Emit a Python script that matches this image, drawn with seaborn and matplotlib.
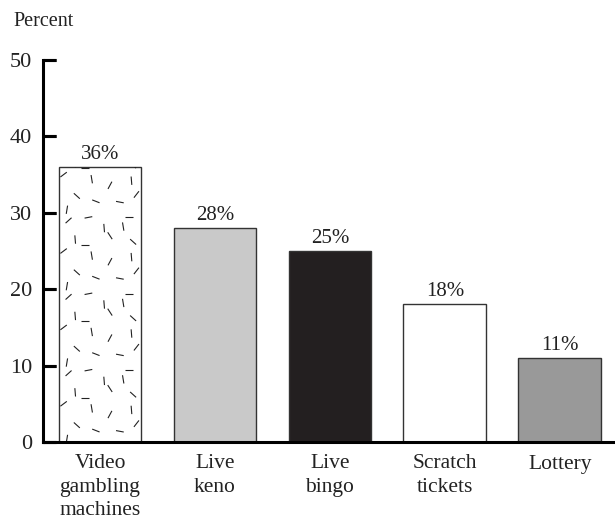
import matplotlib
matplotlib.use("Agg")
import matplotlib.pyplot as plt
from matplotlib.collections import LineCollection
import numpy as np
import pandas as pd
import seaborn as sns

categories = ["Video\ngambling\nmachines", "Live\nkeno", "Live\nbingo", "Scratch\ntickets", "Lottery"]
values = [36, 28, 25, 18, 11]
value_labels = ["36%", "28%", "25%", "18%", "11%"]
bar_colors = ["#ffffff", "#c9c9c9", "#231f20", "#ffffff", "#999999"]
y_ticks = [0, 10, 20, 30, 40, 50]

sns.set_theme(style="white")
plt.rcParams["font.family"] = ["Liberation Serif", "DejaVu Serif"]

df = pd.DataFrame({"category": categories, "value": values})

fig = plt.figure(figsize=(6.15, 5.21), dpi=100)
ax = fig.add_axes([43 / 615, 1 - 442 / 521, 1 - 43 / 615, (442 - 60) / 521])

sns.barplot(data=df, x="category", y="value", hue="category", palette=bar_colors,
            legend=False, width=0.72, edgecolor="#333333", linewidth=1.0, ax=ax,
            saturation=1)

ax.set_xlim(-0.496, 4.48)
ax.set_ylim(0, 50)
ax.set_yticks(y_ticks)
ax.set_yticklabels([str(t) for t in y_ticks], fontsize=16, color="#222222")
ax.set_xlabel("")
ax.set_ylabel("")
for side in ("top", "right"):
    ax.spines[side].set_visible(False)
for side in ("left", "bottom"):
    ax.spines[side].set_linewidth(2.2)
    ax.spines[side].set_color("black")

# value labels above bars
for i, (v, t) in enumerate(zip(values, value_labels)):
    ax.text(i, v + 0.45, t, ha="center", va="bottom", fontsize=15, color="#222222")

# speckled dash texture on the first bar
bar = ax.patches[0]
x0, w = bar.get_x(), bar.get_width()
tile = [(0.12, 0.90, 40), (0.36, 0.94, 10), (0.55, 0.80, 95), (0.85, 0.94, 0),
        (0.20, 0.65, 95), (0.62, 0.70, 125), (0.90, 0.62, 140), (0.06, 0.50, 35),
        (0.40, 0.44, 100), (0.62, 0.36, 60), (0.88, 0.42, 95), (0.22, 0.22, 140),
        (0.45, 0.15, 160), (0.74, 0.14, 170), (0.94, 0.24, 50), (0.10, 0.04, 80),
        (0.32, 0.58, 0), (0.78, 0.82, 100)]
tile_h = 10.0
seg_len_x = 0.034
seg_len_y = 0.55
segs = []
for k in range(5):
    for fx, fy, ang in tile:
        cx = x0 + fx * w
        cy = k * tile_h + fy * tile_h
        dx = seg_len_x * np.cos(np.radians(ang))
        dy = seg_len_y * np.sin(np.radians(ang))
        segs.append([(cx - dx, cy - dy), (cx + dx, cy + dy)])
lc = LineCollection(segs, colors="#222222", linewidths=0.8, zorder=bar.get_zorder() + 0.1)
ax.add_collection(lc, autolim=False)
lc.set_clip_path(bar)

fig.text(13 / 615, 1 - 21 / 521, "Percent", fontsize=14.5, color="#222222", va="center")

# tick styling
ax.xaxis.set_tick_params(which="major", bottom=False, length=0, pad=9,
                         labelsize=15.5, labelcolor="#222222")
for lbl in ax.get_xticklabels():
    lbl.set_linespacing(1.3)
    lbl.set_verticalalignment("top")
ax.yaxis.set_tick_params(which="major", left=True, direction="in", length=9.5,
                         width=2.2, color="black", pad=8)

# inward tick marks on the value axis, one short stroke per y tick
tick_len = 13 / (615 - 43)
ax.hlines(y_ticks, 0, tick_len, transform=ax.get_yaxis_transform(),
          colors="black", linewidth=2.2, clip_on=False, zorder=3)

fig.savefig("out.png", dpi=100)
